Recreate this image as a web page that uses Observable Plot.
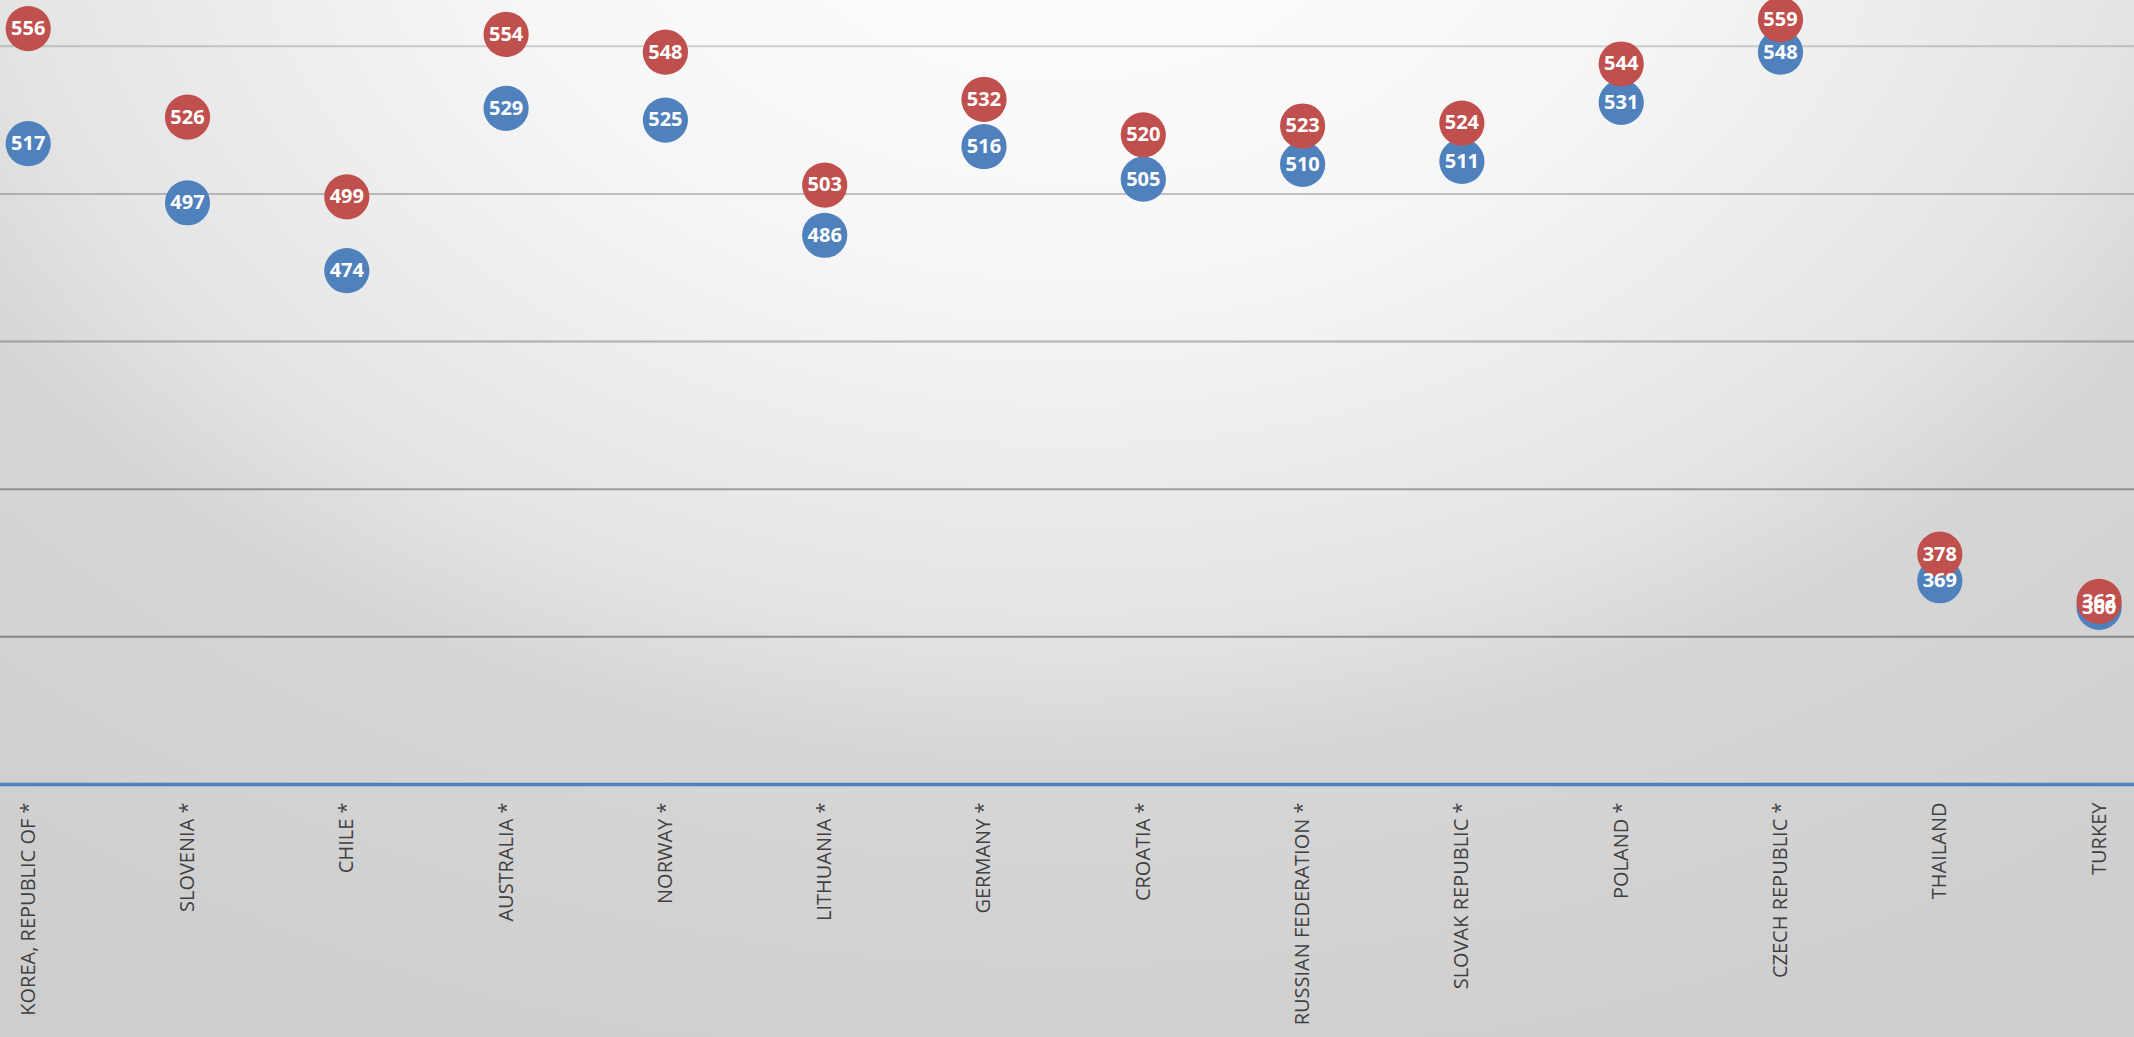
<!DOCTYPE html>
<html>
<head>
<meta charset="utf-8">
<script src="https://cdn.jsdelivr.net/npm/d3@7"></script>
<script src="https://cdn.jsdelivr.net/npm/@observablehq/plot@0.6"></script>
<style>
  html, body { margin: 0; padding: 0; overflow: hidden; background: #d0d0d0; }
  #chart {
    width: 2134px;
    height: 1037px;
    background: radial-gradient(ellipse 1800px 1300px at 1067px -150px,
      #ffffff 0%, #f6f6f6 33%, #e4e4e4 60%, #d6d6d6 70%, #cecece 100%);
  }
  #chart svg { display: block; }
</style>
</head>
<body>
<div id="chart"></div>
<script>
// Countries along the x axis
const countries = [
  "KOREA, REPUBLIC OF *", "SLOVENIA *", "CHILE *", "AUSTRALIA *", "NORWAY *",
  "LITHUANIA *", "GERMANY *", "CROATIA *", "RUSSIAN FEDERATION *",
  "SLOVAK REPUBLIC *", "POLAND *", "CZECH REPUBLIC *", "THAILAND", "TURKEY"
];

// Scores of the two series (red drawn above blue)
const redScores  = [556, 526, 499, 554, 548, 503, 532, 520, 523, 524, 544, 559, 378, 362];
const blueScores = [517, 497, 474, 529, 525, 486, 516, 505, 510, 511, 531, 548, 369, 360];

// Horizontal gridline values; the lowest one is the baseline
const gridValues = [300, 350, 400, 450, 500, 550];

const blueRows = countries.map((country, i) => ({country, score: blueScores[i]}));
const redRows  = countries.map((country, i) => ({country, score: redScores[i]}));

// gridlines get darker toward the bottom of the chart
const gridStroke = v => `rgba(0,0,0,${(0.17 + (550 - v) / 200 * 0.2).toFixed(3)})`;

const RED = "#c0504d";
const BLUE = "#4f81bd";

const chart = Plot.plot({
  width: 2134,
  height: 1037,
  marginTop: 0,
  marginBottom: 253,
  marginLeft: 0,
  marginRight: 0,
  style: {fontFamily: "'Open Sans', sans-serif", background: "transparent", overflow: "visible"},
  x: {type: "point", domain: countries, range: [27.7, 2098.6], padding: 0, round: false},
  y: {domain: [300, 565.5], axis: null},
  marks: [
    Plot.ruleY(gridValues.filter(v => v > 300), {stroke: gridStroke, strokeWidth: 2}),
    Plot.ruleY([300], {stroke: BLUE, strokeWidth: 3.5}),
    Plot.axisX({
      anchor: "bottom",
      tickSize: 0,
      tickPadding: 18,
      tickRotate: -90,
      fontSize: 20,
      color: "#404040",
      label: null
    }),
    Plot.dot(blueRows, {x: "country", y: "score", r: 22.6, fill: BLUE}),
    Plot.dot(redRows, {x: "country", y: "score", r: 22.6, fill: RED}),
    Plot.text(blueRows, {x: "country", y: "score", text: d => String(d.score),
      fill: "white", fontWeight: "bold", fontSize: 20}),
    Plot.text(redRows, {x: "country", y: "score", text: d => String(d.score),
      fill: "white", fontWeight: "bold", fontSize: 20})
  ]
});

document.getElementById("chart").appendChild(chart);
</script>
</body>
</html>
